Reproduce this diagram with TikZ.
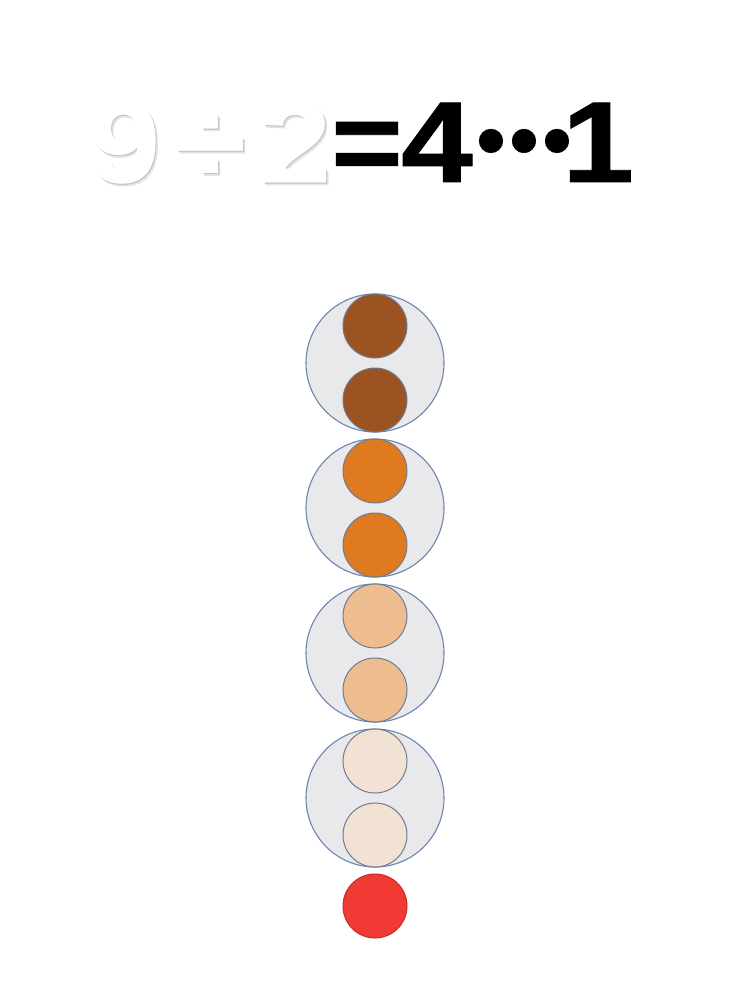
\documentclass[tikz,border=0pt]{standalone}
\usepackage{fontspec}
\newfontfamily\heavy[FakeBold=0.8]{Liberation Sans Bold}
\definecolor{bigfill}{HTML}{E9E9EB}
\definecolor{bigline}{HTML}{6A86B4}
\definecolor{cBrown}{HTML}{9B5322}
\definecolor{cOrange}{HTML}{DF7A20}
\definecolor{cPeach}{HTML}{EDBD8F}
\definecolor{cCream}{HTML}{F1E2D4}
\definecolor{cRed}{HTML}{F13A33}
\definecolor{smallline}{HTML}{6E7C92}
\begin{document}
\begin{tikzpicture}[x=1pt,y=-1pt,
  glyph/.style={font=\heavy\fontsize{115}{115}\selectfont, inner sep=0pt, anchor=base, xscale=1.12},
  dotglyph/.style={font=\heavy\fontsize{82}{82}\selectfont, inner sep=0pt, anchor=base},
  whiteglyph/.style={glyph, text=white},
  shadowglyph/.style={glyph, text=black, opacity=#1},
  group/.style={circle, minimum size=138pt, inner sep=0pt, fill=bigfill, draw=bigline, line width=1.1pt},
  bead/.style={circle, minimum size=64pt, inner sep=0pt, fill=#1, draw=smallline, line width=1pt}
]
\useasboundingbox[fill=white] (0,0) rectangle (750,1000);
% white embossed part with soft shadow
\foreach \g/\x [count=\i] in {9/124, \char"00F7/210, 2/295}{
  \node[shadowglyph=0.07] (s\i a) at (\x+2.5,185) {\g};
  \node[shadowglyph=0.10] (s\i b) at (\x+1.2,183.5) {\g};
  \node[whiteglyph] (w\i) at (\x,182) {\g};
}
% black part
\node[glyph, xscale=0.95] (eq) at (367,182) {=};
\node[glyph] (four) at (437,182) {4};
\node[dotglyph] (d1) at (491,168) {\char"2022};
\node[dotglyph] (d2) at (524,168) {\char"2022};
\node[dotglyph] (d3) at (557,168) {\char"2022};
\node[glyph] (one) at (598,182) {1};
% groups of two
\foreach \cy/\col [count=\k] in {363/cBrown, 508/cOrange, 653/cPeach, 798/cCream}{
  \node[group] (g\k) at (375,\cy) {};
  \node[bead=\col] (b\k a) at (375,\cy-37) {};
  \node[bead=\col] (b\k b) at (375,\cy+37) {};
}
% remainder
\node[bead=cRed, draw=cRed!80!black] (rem) at (375,906) {};
\end{tikzpicture}
\end{document}
